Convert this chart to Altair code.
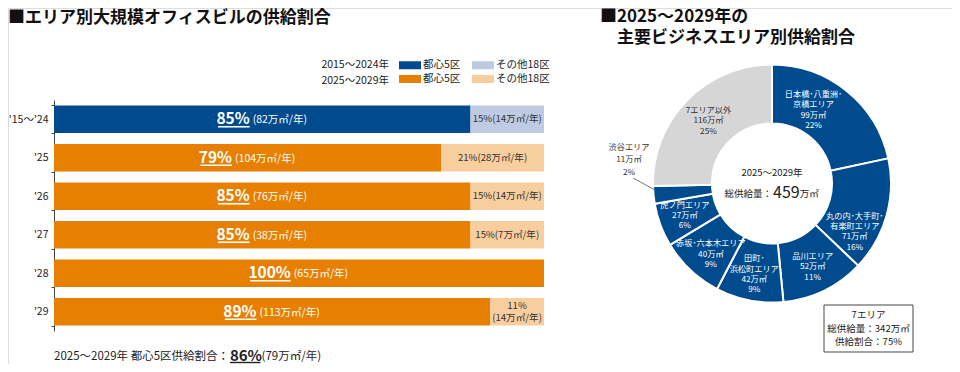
import math
import altair as alt
import pandas as pd

FONT = "Noto Sans CJK JP"

# ---------------- data ----------------
periods = ["'15～'24", "'25", "'26", "'27", "'28", "'29"]
period_groups = ["2015～2024年", "2025～2029年", "2025～2029年",
                 "2025～2029年", "2025～2029年", "2025～2029年"]
core5_share = [85, 79, 85, 85, 100, 89]          # %
core5_supply = [82, 104, 76, 38, 65, 113]        # 万㎡/年
other18_share = [15, 21, 15, 15, 0, 11]          # %
other18_supply = [14, 28, 14, 7, 0, 14]          # 万㎡/年

legend_periods = ["2015～2024年", "2025～2029年"]
legend_areas = ["都心5区", "その他18区"]
legend_colors = ["#004B8D", "#BFCAE3", "#E77F00", "#F9CE9E"]

summary_text = "2025～2029年 都心5区供給割合："
summary_share = 86
summary_supply = 79

donut_areas = ["日本橋･八重洲･京橋エリア", "丸の内･大手町･有楽町エリア", "品川エリア",
               "田町･浜松町エリア", "赤坂･六本木エリア", "虎ノ門エリア", "渋谷エリア", "7エリア以外"]
donut_name_lines = [["日本橋･八重洲･", "京橋エリア"], ["丸の内･大手町･", "有楽町エリア"], ["品川エリア"],
                    ["田町･", "浜松町エリア"], ["赤坂･六本木エリア"], ["虎ノ門エリア"], ["渋谷エリア"],
                    ["7エリア以外"]]
donut_supply = [99, 71, 52, 42, 40, 27, 11, 116]   # 万㎡
donut_share = [22, 16, 11, 9, 9, 6, 2, 25]         # %
donut_colors = ["#004B8D"] * 7 + ["#D6D6D6"]
donut_outside = ["渋谷エリア"]
total_supply = 459
seven_supply = 342
seven_share = 75

left_title = "■エリア別大規模オフィスビルの供給割合"
right_title = ["■2025～2029年の", "主要ビジネスエリア別供給割合"]
center_period = "2025～2029年"

# ---------------- layout ----------------
W, H = 944, 356
X0, X1 = 46, 536
Y0, Y1 = 92, 323
PPU = (X1 - X0) / 100.0
CX, CY = 764, 175.5
R_OUT, R_IN = 119, 60
BIG, SMALL, GAP = 15.5, 10.5, 3
DONUT_FS, DONUT_LH = 8.2, 10.4
LIGHT_FS, LIGHT_LH = 9.6, 12.5


def text_w(s, size, bold=False):
    w = 0.0
    for c in s:
        if c == "･":
            w += 0.5
        elif ord(c) > 0x2000:
            w += 1.0
        elif c.isdigit():
            w += 0.57 if bold else 0.555
        elif c == "%":
            w += 0.9
        elif c in "()":
            w += 0.33
        elif c == "/":
            w += 0.36
        else:
            w += 0.3
    return w * size


# bars
rows = []
for i, p in enumerate(periods):
    g = period_groups[i]
    rows.append({"period": p, "key": f"{g} {legend_areas[0]}", "x0": 0, "x1": core5_share[i]})
    if other18_share[i] > 0:
        rows.append({"period": p, "key": f"{g} {legend_areas[1]}", "x0": core5_share[i], "x1": 100})
bars_df = pd.DataFrame(rows)
legend_keys = [f"{g} {a}" for g in legend_periods for a in legend_areas]

dark = []
for i, p in enumerate(periods):
    big = f"{core5_share[i]}%"
    small = f"({core5_supply[i]}万㎡/年)"
    bw = text_w(big, BIG, True)
    sw = text_w(small, SMALL)
    mid = core5_share[i] / 2
    split = mid + (bw - GAP - sw) / 2 / PPU
    dark.append({"period": p, "big": big, "small": small, "split": split, "ustart": split - bw / PPU})
dark_df = pd.DataFrame(dark)

light = []
for i, p in enumerate(periods):
    if other18_share[i] == 0:
        continue
    s = f"{other18_share[i]}%"
    a = f"({other18_supply[i]}万㎡/年)"
    seg_px = other18_share[i] * PPU
    lines = [s + a] if text_w(s + a, LIGHT_FS) + 2 < seg_px else [s, a]
    light.append({"period": p, "lines": lines, "n": len(lines), "xm": (core5_share[i] + 100) / 2})
light_df = pd.DataFrame(light)

xscale = alt.Scale(domain=[0, 100], range=[X0, X1], nice=False, zero=False)
yscale = alt.Scale(domain=periods, range=[Y0, Y1], paddingInner=0.28, paddingOuter=0.14)
yaxis = alt.Axis(title=None, offset=-X0, labelFont=FONT, labelFontSize=10.5, labelColor="#222",
                 domainColor="#444", domainWidth=1, tickColor="#444", tickSize=3, tickBand="extent",
                 labelPadding=3, grid=False)


def X(f):
    return alt.X(f, scale=xscale, axis=None, title=None)


Y = alt.Y("period:N", sort=periods, scale=yscale, axis=yaxis, title=None)

bar_layer = alt.Chart(bars_df).mark_bar().encode(
    x=X("x0:Q"), x2="x1:Q", y=Y,
    color=alt.Color("key:N", scale=alt.Scale(domain=legend_keys, range=legend_colors),
                    legend=alt.Legend(
                        orient="none", legendX=394, legendY=49, columns=2, direction="horizontal",
                        title=None,
                        symbolType="M-1.375,-0.5H1.375V0.5H-1.375Z", symbolSize=256,
                        symbolStrokeWidth=0, labelFont=FONT, labelFontSize=10.5, labelColor="#222",
                        labelOffset=5, columnPadding=11, rowPadding=0, padding=0,
                        labelExpr="split(datum.label, ' ')[1]")),
)

big_layer = alt.Chart(dark_df).mark_text(
    align="right", baseline="middle", font=FONT, fontSize=BIG, fontWeight="bold", color="white"
).encode(x=X("split:Q"), y=Y, text="big:N")

small_layer = alt.Chart(dark_df).mark_text(
    align="left", baseline="middle", font=FONT, fontSize=SMALL, color="white", dx=GAP, dy=1
).encode(x=X("split:Q"), y=Y, text="small:N")

underline_layer = alt.Chart(dark_df).mark_rule(color="white", strokeWidth=1.6, yOffset=7.5).encode(
    x=X("ustart:Q"), x2="split:Q", y=Y)

light_layers = [
    alt.Chart(light_df).transform_filter(f"datum.n == {n}").mark_text(
        align="center", baseline="middle", font=FONT, fontSize=LIGHT_FS, color="#333",
        lineHeight=LIGHT_LH, dy=-(n - 1) * LIGHT_LH / 2
    ).encode(x=X("xm:Q"), y=Y, text="lines:N")
    for n in sorted(light_df["n"].unique())
]


# ---- donut: label placement that keeps each label block inside the ring ----
def fit_label(t0, t1, lines):
    span = t1 - t0
    tm = (t0 + t1) / 2
    n = len(lines)
    widths = [text_w(s, DONUT_FS) for s in lines]
    half = DONUT_FS * 0.45
    best = None
    steps = 25
    for k in range(-steps, steps + 1):
        ang = tm + k / steps * 0.3 * span
        a = math.radians(ang)
        for r in range(72, 101):
            cx, cy = math.sin(a) * r, -math.cos(a) * r
            far, near = 0.0, 1e9
            for j, w in enumerate(widths):
                ly = cy + (j - (n - 1) / 2) * DONUT_LH
                xs, ys = (cx - w / 2, cx + w / 2), (ly - half, ly + half)
                far = max(far, max(math.hypot(x, y) for x in xs for y in ys))
                nx = min(max(0.0, xs[0]), xs[1])
                ny = min(max(0.0, ys[0]), ys[1])
                near = min(near, math.hypot(nx, ny))
            v = max(far - (R_OUT - 3), (R_IN + 3) - near, 0)
            cost = v * 10 + abs(ang - tm) * 0.15 + abs(r - 93) * 0.2
            if best is None or cost < best[0]:
                best = (cost, ang, r)
    return best[1], best[2]


cum = 0
drows = []
tot = sum(donut_supply)
for i, a in enumerate(donut_areas):
    t0 = cum
    cum += donut_supply[i]
    inside = a not in donut_outside
    inner = donut_name_lines[i] + [f"{donut_supply[i]}万㎡", f"{donut_share[i]}%"] if inside else []
    la, lr = fit_label(t0 / tot * 360, cum / tot * 360, inner) if inside else ((t0 + cum) / 2 / tot * 360, 90)
    drows.append({
        "area": a, "t0": t0, "t1": cum, "tl": la / 360 * tot, "lr": lr, "color": donut_colors[i],
        "tcolor": "#333" if donut_colors[i] == "#D6D6D6" else "white",
        "inner": inner, "n": len(inner),
    })
donut_df = pd.DataFrame(drows)
tscale = alt.Scale(domain=[0, tot], range=[0, 6.283185307179586], zero=False, nice=False)

arc_layer = alt.Chart(donut_df).mark_arc(
    outerRadius=R_OUT, innerRadius=R_IN, stroke="white", strokeWidth=2
).encode(
    theta=alt.Theta("t0:Q", scale=tscale, stack=None), theta2="t1:Q",
    color=alt.Color("color:N", scale=None), x=alt.value(CX), y=alt.value(CY))

arc_texts = [
    alt.Chart(donut_df).transform_filter(f"datum.n == {n}").mark_text(
        font=FONT, fontSize=DONUT_FS, lineHeight=DONUT_LH, align="center",
        baseline="middle", dy=-(n - 1) * DONUT_LH / 2
    ).encode(
        theta=alt.Theta("tl:Q", scale=tscale, stack=None),
        radius=alt.Radius("lr:Q", scale=None),
        text="inner:N", color=alt.Color("tcolor:N", scale=None), x=alt.value(CX), y=alt.value(CY))
    for n in sorted(donut_df["n"].unique()) if n > 0
]

out_i = donut_areas.index(donut_outside[0])
out_df = pd.DataFrame({"t": [donut_name_lines[out_i] + [f"{donut_supply[out_i]}万㎡", f"{donut_share[out_i]}%"]]})
out_text = alt.Chart(out_df).mark_text(
    font=FONT, fontSize=DONUT_FS, lineHeight=12.5, align="center", baseline="middle", color="#333"
).encode(x=alt.value(621), y=alt.value(139.5), text="t:N")
leader = alt.Chart(out_df).mark_rule(color="#555", strokeWidth=0.8).encode(
    x=alt.value(625), y=alt.value(170), x2=alt.value(647), y2=alt.value(182))


def note(text, x, y, size, weight="normal", align="left", color="#222", lh=None):
    kw = dict(align=align, baseline="middle", font=FONT, fontSize=size, fontWeight=weight, color=color)
    if lh:
        kw["lineHeight"] = lh
    return alt.Chart(pd.DataFrame({"t": [text]})).mark_text(**kw).encode(
        x=alt.value(x), y=alt.value(y), text="t:N")


annots = [
    note(left_title, 0, 10, 17, "bold", color="#111"),
    note(right_title[0], 592, 9, 17, "bold", color="#111"),
    note(right_title[1], 609, 29.5, 17, "bold", color="#111"),
    note(legend_periods[0], 381, 57, 10.5, align="right"),
    note(legend_periods[1], 381, 73, 10.5, align="right"),
    note(center_period, CX, 165, 9.5, align="center"),
    note("総供給量：", CX, 185.5, 9.5, align="right"),
    note(f"{total_supply}", CX + 1, 184.5, 16),
    note("万㎡", CX + 1 + text_w(f"{total_supply}", 16), 186, 9.5),
]

# bottom summary
sx = X0
SUMBIG = 15
w1 = text_w(summary_text, 11.5)
w86 = text_w(f"{summary_share}%", SUMBIG, True)
annots += [
    note(summary_text, sx, 348.5, 11.5),
    note(f"{summary_share}%", sx + w1, 347.5, SUMBIG, "bold"),
    note(f"({summary_supply}万㎡/年)", sx + w1 + w86 + 1, 348.5, 11.5),
    alt.Chart(pd.DataFrame({"t": [0]})).mark_rule(color="#222", strokeWidth=1.4).encode(
        x=alt.value(sx + w1), x2=alt.value(sx + w1 + w86), y=alt.value(354.5)),
]

# seven-area box
box = alt.Chart(pd.DataFrame({"t": [0]})).mark_rect(fill="white", stroke="#444", strokeWidth=1).encode(
    x=alt.value(816), x2=alt.value(905), y=alt.value(297), y2=alt.value(344))
box_text = note(["7エリア", f"総供給量：{seven_supply}万㎡", f"供給割合：{seven_share}%"],
                860.5, 307, 9.5, align="center", lh=13.5)

chart = alt.layer(
    bar_layer, *light_layers, big_layer, small_layer, underline_layer,
    arc_layer, *arc_texts, out_text, leader, box, box_text, *annots
).resolve_scale(color="independent").properties(
    width=W, height=H, padding=0, autosize=alt.AutoSizeParams(type="none")
).configure_view(stroke=None).configure(font=FONT)

chart.save("out.html", embed_options={"renderer": "svg", "actions": False})
